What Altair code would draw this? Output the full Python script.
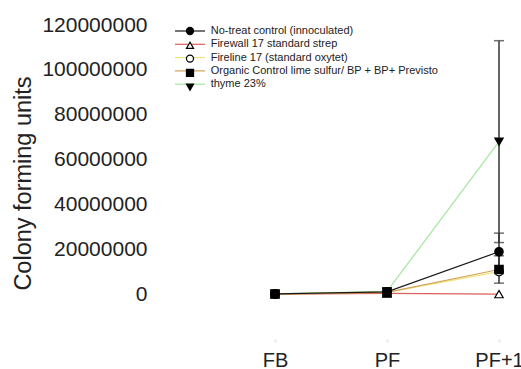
import altair as alt
import pandas as pd

# ---- data ----
timepoints = ["FB", "PF", "PF+1"]
series_names = [
    "No-treat control (innoculated)",
    "Firewall 17 standard strep",
    "Fireline 17 (standard oxytet)",
    "Organic Control lime sulfur/ BP + BP+ Previsto",
    "thyme 23%",
]
control_vals = [100000, 1000000, 18900000]
firewall_vals = [0, 300000, 0]
fireline_vals = [50000, 800000, 10000000]
organic_vals = [50000, 800000, 11000000]
thyme_vals = [100000, 1200000, 68000000]

control_err = [0, 0, 8300000]
firewall_err = [0, 0, 0]
fireline_err = [0, 0, 0]
organic_err = [0, 0, 6100000]
thyme_err = [0, 0, 45000000]

y_ticks = [0, 20000000, 40000000, 60000000, 80000000, 100000000, 120000000]

line_colors = ["#1a1a1a", "#d9605c", "#eee27a", "#d2a35a", "#a6e6a0"]
shapes = ["circle", "triangle-up", "circle", "square", "triangle-down"]
fills = ["black", "white", "white", "black", "black"]
strokes = ["black", "black", "black", "black", "black"]
draw_rank = [4, 2, 1, 3, 0]  # control on top, then organic square

# ---- build table ----
vals = [control_vals, firewall_vals, fireline_vals, organic_vals, thyme_vals]
errs = [control_err, firewall_err, fireline_err, organic_err, thyme_err]
marker_keys = [s + " " for s in series_names]  # separate key so the marker legend stays apart
rows = []
for s, mk, rk, v, e in zip(series_names, marker_keys, draw_rank, vals, errs):
    for t, vv, ee in zip(timepoints, v, e):
        rows.append({"series": s, "marker": mk, "rank": rk, "time": t, "cfu": vv,
                     "err": ee, "lo": vv - ee, "hi": vv + ee})
df = pd.DataFrame(rows)
df_draw = df.sort_values("rank", kind="stable").reset_index(drop=True)
df_err = df[df["err"] > 0]

FONT = "Liberation Sans"
x_scale = alt.Scale(type="point", domain=timepoints, range=[112, 336], padding=0)

x_enc = alt.X("time:N", scale=x_scale,
              axis=alt.Axis(title=None, labelFontSize=20, labelFont=FONT, labelColor="#222",
                            labelAngle=0, domain=False, ticks=True, tickColor="#e6e6e6",
                            tickSize=3, tickWidth=2, labelPadding=8, grid=False))
y_scale = alt.Scale(domain=[-20000000, 120000000], nice=False, zero=False)
y_axis = alt.Axis(title="Colony forming units", values=y_ticks, format="d",
                  labelFontSize=21, labelFont=FONT, labelColor="#222", labelPadding=16,
                  domain=False, ticks=False, grid=False,
                  titleFontSize=23.5, titleFont=FONT, titleFontWeight="normal", titleColor="#222",
                  titleX=-140, titleY=158, titleAngle=270, titleAlign="center",
                  titleBaseline="middle")

# both legends share the same layout so their rows line up exactly
LEG = dict(title=None, orient="none", legendX=21.5, legendY=0.5, symbolSize=50,
           symbolStrokeWidth=1.2, labelFont=FONT, labelFontSize=11, labelOffset=15.2,
           rowPadding=1.3, padding=0, labelLimit=400)

lines = alt.Chart(df_draw).mark_line(strokeWidth=1.2).encode(
    x=x_enc,
    y=alt.Y("cfu:Q", scale=y_scale, axis=y_axis),
    color=alt.Color("series:N", scale=alt.Scale(domain=series_names, range=line_colors),
                    legend=alt.Legend(symbolType="M-4.24,0H4.24", labelColor="#222", **LEG)),
    order=alt.Order("time:N"),
)

rules = alt.Chart(df_err).mark_rule(color="#333", strokeWidth=1.5).encode(
    x=alt.X("time:N", scale=x_scale),
    y=alt.Y("lo:Q", scale=y_scale),
    y2="hi:Q",
)
caps_hi = alt.Chart(df_err).mark_tick(color="#333", thickness=1.5, size=10).encode(
    x=alt.X("time:N", scale=x_scale),
    y=alt.Y("hi:Q", scale=y_scale),
)
caps_lo = alt.Chart(df_err).mark_tick(color="#333", thickness=1.5, size=10).encode(
    x=alt.X("time:N", scale=x_scale),
    y=alt.Y("lo:Q", scale=y_scale),
)

marker_legend = alt.Legend(labelOpacity=0, **LEG)

points = alt.Chart(df_draw).mark_point(filled=False, size=70, strokeWidth=1.2, opacity=1).encode(
    x=alt.X("time:N", scale=x_scale),
    y=alt.Y("cfu:Q", scale=y_scale),
    shape=alt.Shape("marker:N", scale=alt.Scale(domain=marker_keys, range=shapes),
                    legend=marker_legend),
    fill=alt.Fill("marker:N", scale=alt.Scale(domain=marker_keys, range=fills),
                  legend=marker_legend),
    stroke=alt.Stroke("marker:N", scale=alt.Scale(domain=marker_keys, range=strokes),
                      legend=marker_legend),
    order=alt.Order("rank:Q"),
)

chart = alt.layer(lines, rules, caps_hi, caps_lo, points).properties(
    width=358, height=314,
    autosize=alt.AutoSizeParams(type="none"),
    padding={"left": 163, "top": 25, "right": 0, "bottom": 30},
    background="white",
).configure_view(stroke=None)

chart.save("out.html", embed_options={"renderer": "svg", "actions": False})
